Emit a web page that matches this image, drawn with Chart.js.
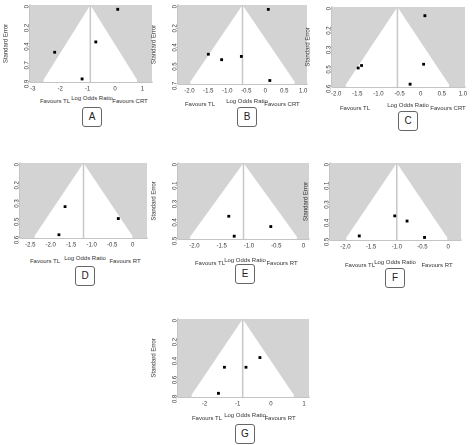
<!DOCTYPE html>
<html><head><meta charset="utf-8">
<script src="https://cdn.jsdelivr.net/npm/chart.js@4/dist/chart.umd.min.js"></script>
<style>
body{margin:0;background:#fff;width:474px;height:445px;position:relative;overflow:hidden;font-family:"Liberation Sans",Arial,sans-serif}
canvas{position:absolute}
.t{position:absolute;font-size:6px;color:#333;transform:translateX(-50%);white-space:nowrap}
.b{position:absolute;width:18px;height:18px;border:1px solid #666;border-radius:3px;font-size:10px;line-height:18px;text-align:center;transform:translateX(-50%);color:#222;background:#fff}
</style></head><body>
<script>
// Panel data
const panelNames = ["A","B","C","D","E","F","G"];
const favourRight = ["Favours CRT","Favours CRT","Favours CRT","Favours RT","Favours RT","Favours RT","Favours RT"];
const pooled = [-0.9,-0.6,-0.55,-1.2,-1.1,-1.0,-0.85];
const seTicks = [
 [0,0.218,0.435,0.653,0.87],
 [0,0.175,0.35,0.525,0.701],
 [0,0.156,0.312,0.468,0.624],
 [0,0.152,0.304,0.457,0.609],
 [0,0.125,0.25,0.374,0.499],
 [0,0.125,0.251,0.375,0.502],
 [0,0.196,0.393,0.589,0.785]
];
const xTicks = [
 [-3,-2,-1,0,1],
 [-2,-1.5,-1,-0.5,0,0.5,1],
 [-2,-1.5,-1,-0.5,0,0.5,1],
 [-2.5,-2,-1.5,-1,-0.5,0],
 [-2,-1.5,-1,-0.5,0],
 [-2,-1.5,-1,-0.5,0],
 [-2,-1,0,1]
];
const xRange = [[-3.1,1.35],[-2.3,1.1],[-2.1,1.05],[-2.75,0.35],[-2.3,0.1],[-2.3,0.25],[-2.8,1.15]];
const logOR = [
 [0.1,-0.7,-2.2,-1.2],
 [0.08,-1.5,-1.15,-0.63,0.12],
 [0.1,-1.4,-1.48,0.07,-0.25],
 [-1.65,-0.35,-1.8],
 [-1.37,-0.6,-1.27],
 [-1.04,-0.8,-1.73,-0.46],
 [-0.33,-1.4,-0.75,-1.58]
];
const stdErr = [
 [0.05,0.43,0.55,0.86],
 [0.04,0.45,0.5,0.47,0.69],
 [0.07,0.47,0.49,0.46,0.62],
 [0.365,0.465,0.6],
 [0.36,0.43,0.495],
 [0.355,0.39,0.49,0.5],
 [0.4,0.5,0.5,0.77]
];
// layout: plot rect [left,top,right,bottom], text row y, TL x, title x, right x, box top
const L = [
 [30,4,153,82, 95, 55,92,130, 107],
 [178,4,308,84, 98, 200,247,282, 107],
 [332,6,466,87, 102, 355,408,448, 111],
 [20,162,148,238, 255, 45,85,125, 266],
 [178,162,310,239, 257, 210,245,282, 264],
 [330,162,462,240, 259, 360,395,437, 268],
 [178,318,310,397, 412, 207,245,280, 424]
];
const funnelPlugin = {id:'funnel', beforeDatasetsDraw(c){
  const {ctx,chartArea:a,scales:{x,y}}=c; const i=c.options.plugins.funnel.idx;
  const p=pooled[i], m=seTicks[i][seTicks[i].length-1];
  ctx.save(); ctx.beginPath(); ctx.rect(a.left,a.top,a.width,a.height); ctx.clip();
  ctx.fillStyle='#d3d3d3'; ctx.fillRect(a.left,a.top,a.width,a.height);
  ctx.fillStyle='#fff'; ctx.beginPath();
  ctx.moveTo(x.getPixelForValue(p),y.getPixelForValue(0));
  ctx.lineTo(x.getPixelForValue(p-1.96*m),y.getPixelForValue(m));
  ctx.lineTo(x.getPixelForValue(p-1.96*m),a.bottom);
  ctx.lineTo(x.getPixelForValue(p+1.96*m),a.bottom);
  ctx.lineTo(x.getPixelForValue(p+1.96*m),y.getPixelForValue(m));
  ctx.closePath(); ctx.fill();
  ctx.strokeStyle='#c8c8c8'; ctx.lineWidth=1.5; ctx.beginPath();
  ctx.moveTo(x.getPixelForValue(p),y.getPixelForValue(0)); ctx.lineTo(x.getPixelForValue(p),a.bottom); ctx.stroke();
  ctx.restore();
}};
function add(cls,txt,x,y){const d=document.createElement('div');d.className=cls;d.textContent=txt;d.style.left=x+'px';d.style.top=y+'px';document.body.appendChild(d);}
panelNames.forEach((nm,i)=>{
  const [pl,pt,pr,pb,ty,tlx,ttx,trx,by]=L[i];
  const cl=pl-28, ct=pt-4, cr=pr+4, cb=pb+10;
  const cv=document.createElement('canvas');
  cv.style.left=cl+'px'; cv.style.top=ct+'px';
  cv.width=(cr-cl); cv.height=(cb-ct);
  document.body.appendChild(cv);
  const m=seTicks[i][seTicks[i].length-1];
  new Chart(cv,{type:'scatter',
    data:{datasets:[{data:logOR[i].map((v,k)=>({x:v,y:stdErr[i][k]})),backgroundColor:'#000',borderColor:'#000',pointRadius:1.3,pointStyle:'rect'}]},
    options:{responsive:false,devicePixelRatio:2,animation:false,
      layout:{padding:{top:4,right:4,left:0,bottom:0}},
      plugins:{legend:{display:false},tooltip:{enabled:false},funnel:{idx:i}},
      scales:{
        x:{type:'linear',min:xRange[i][0],max:xRange[i][1],afterBuildTicks(s){s.ticks=xTicks[i].map(v=>({value:v}));},
           grid:{display:false,tickLength:2},border:{color:'#888'},
           ticks:{font:{size:6},color:'#333',padding:1,maxRotation:0,autoSkip:false},
           afterFit(s){s.height=10;}},
        y:{type:'linear',reverse:true,min:0,max:m*1.03,afterBuildTicks(s){s.ticks=seTicks[i].map(v=>({value:v}));},
           grid:{display:false,tickLength:2},border:{color:'#888'},
           title:{display:true,text:'Standard Error',font:{size:6},color:'#333',padding:0},
           ticks:{font:{size:6},color:'#333',padding:1,minRotation:90,maxRotation:90,autoSkip:false},
           afterFit(s){s.width=28;}}
      }},
    plugins:[funnelPlugin]});
  add('t','Favours TL',tlx,ty+3);
  add('t','Log Odds Ratio',ttx,ty);
  add('t',favourRight[i],trx,ty+3);
  add('b',nm,ttx,by);
});
</script>
</body></html>
